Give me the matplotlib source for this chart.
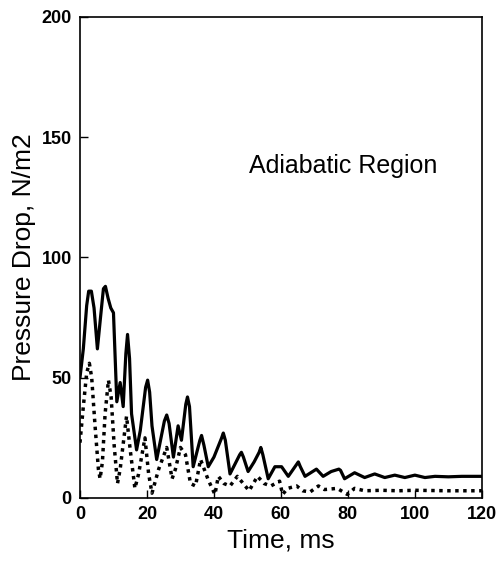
import matplotlib.pyplot as plt

# Solid curve (upper)
t_solid = [0, 1, 2, 2.6, 3.4, 4.2, 5.2, 6.2, 7, 7.6, 8.4, 9.2, 10, 11, 12, 12.9, 13.7,
           14.2, 14.8, 15.4, 16.9, 18, 19.6, 20.2, 20.8, 21.5, 22.9, 25.2, 25.9, 26.6,
           27.9, 29.3, 30.3, 31.6, 32.1, 32.7, 33.8, 35.8, 36.3, 37, 38.3, 40, 42.3, 42.8,
           43.4, 44.8, 47.7, 48.2, 48.8, 50.2, 52, 53.5, 54, 54.6, 56.2, 58.2, 60.2, 62.2,
           64.7, 65.2, 65.8, 67.2, 70.6, 72.6, 75, 77.3, 77.8, 79, 82, 85, 88, 91, 94, 97,
           100, 103, 106, 110, 114, 120]
p_solid = [50, 62, 80, 86, 86, 79, 62, 76, 87, 88, 83, 79, 77, 40, 48, 38, 60,
           68, 58, 35, 20, 28, 46, 49, 44, 30, 16, 32, 34.5, 31,
           17, 30, 24, 39, 42, 38, 13, 24, 26, 22, 13, 17, 25, 27,
           24, 10, 18, 19, 17, 11, 15, 19, 21, 18, 8, 13, 13, 9,
           14, 15, 13, 9, 12, 9, 11, 12, 11.5, 8, 10.5, 8.5, 10, 8.5, 9.5, 8.5,
           9.5, 8.5, 9, 8.8, 9, 9]

# Dotted curve (lower)
t_dot = [0, 1, 2, 2.8, 3.5, 4.5, 5.5, 6, 6.7, 7.5, 8.5, 9.3, 10.2, 11.2, 12, 13.9, 15,
         16.4, 17.5, 19.4, 20.5, 21.5, 23.5, 25.9, 27.5, 28.5, 30, 31.5, 33, 34.5, 36,
         38.3, 40.3, 41.3, 43, 44.8, 47, 50.5, 53, 55, 57, 59.6, 60.5, 62, 64.7, 66.5,
         68.7, 71.2, 73, 76.8, 79.8, 82, 85, 90, 95, 100, 110, 120]
p_dot = [23, 38, 52, 56, 50, 30, 12, 8, 15, 35, 49, 42, 22, 6, 12, 34, 20,
         4, 10, 25, 10, 2, 12, 21, 8, 12, 21, 18, 6, 5, 16,
         7.5, 1.5, 9, 6, 5, 9, 3, 9, 6, 5, 7, 1.5, 4, 5, 3,
         2.5, 5, 3.5, 4, 1.5, 4, 3, 3.2, 3, 3.2, 3, 3]

plt.rcParams['font.family'] = ['Liberation Sans', 'DejaVu Sans']

fig = plt.figure(figsize=(4.98, 5.65), dpi=100)
ax = fig.add_axes([0.1606, 0.1186, 0.807, 0.8514])

ax.plot(t_solid, p_solid, color='black', linewidth=2.3,
        solid_joinstyle='round', solid_capstyle='round')
ax.plot(t_dot, p_dot, color='black', linewidth=2.5, linestyle=(0, (1, 1.3)),
        dash_joinstyle='round')

ax.set_xlim(0, 120)
ax.set_ylim(0, 200)
ax.set_xticks([0, 20, 40, 60, 80, 100, 120])
ax.set_yticks([0, 50, 100, 150, 200])
ax.tick_params(direction='in', length=6, width=1, labelsize=13, pad=6)
for lab in ax.get_xticklabels() + ax.get_yticklabels():
    lab.set_fontweight('bold')
for s in ax.spines.values():
    s.set_linewidth(1.2)

ax.set_xlabel('Time, ms', fontsize=19, labelpad=4)
ax.set_ylabel('Pressure Drop, N/m2', fontsize=19, labelpad=4)
ax.text(78.5, 138, 'Adiabatic Region', fontsize=18, ha='center', va='center')

fig.savefig('out.png', dpi=100)
